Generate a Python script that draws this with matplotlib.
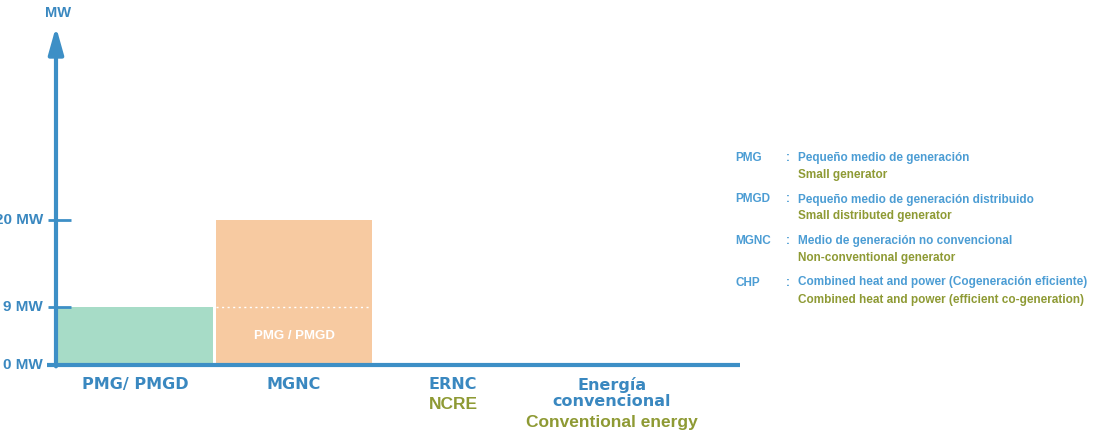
import numpy as np
import matplotlib.pyplot as plt

# categories along the horizontal axis
categories = ["PMG/ PMGD", "MGNC", "ERNC", "Energía\nconvencional"]
sub_labels = ["", "", "NCRE", "Conventional energy"]
bar_mw = [9, 20]          # only the first two categories have a bar
inner_label = "PMG / PMGD"
tick_mw = [0, 9, 20]
tick_labels = ["0 MW", "9 MW", "20 MW"]

legend_terms = ["PMG", "PMGD", "MGNC", "CHP"]
legend_es = ["Pequeño medio de generación",
             "Pequeño medio de generación distribuido",
             "Medio de generación no convencional",
             "Combined heat and power (Cogeneración eficiente)"]
legend_en = ["Small generator",
             "Small distributed generator",
             "Non-conventional generator",
             "Combined heat and power (efficient co-generation)"]

BLUE = "#3d8fc6"
TXT_BLUE = "#3a88c0"
LEG_BLUE = "#4c9dd4"
OLIVE = "#8e9a34"
GREEN = "#a7dcc7"
ORANGE = "#f7caa1"

NARROW = ["Liberation Sans"]
WIDE = ["DejaVu Sans"]

# the picture's y axis is not linear: 0 / 9 / 20 MW are not evenly spaced
knots_mw = [0, 9, 20, 60]
knots_h = [0, 58, 145, 461]


def fwd(v):
    return np.interp(v, knots_mw, knots_h)


def inv(h):
    return np.interp(h, knots_h, knots_mw)


W, H = 1098, 430
fig = plt.figure(figsize=(W / 100, H / 100), dpi=100)
ax = fig.add_axes([56 / W, 1 - 365 / H, 684 / W, 333 / H])
ax.set_yscale("function", functions=(fwd, inv))
ax.set_xlim(-0.497, 3.805)
ax.set_ylim(0, 43.8)

x = np.arange(len(categories))
ax.bar(x[:2], bar_mw, width=0.985, color=[GREEN, ORANGE], zorder=1)
# dotted line inside MGNC bar at the PMG limit
ax.hlines(bar_mw[0], x[1] - 0.49, x[1] + 0.49, colors="white", linestyles=(0, (1.5, 2.5)), lw=1, zorder=2)
ax.text(x[1], 4.5, inner_label, color="white", ha="center", va="center",
        fontsize=9.5, fontweight="bold", family=NARROW, zorder=3)

for s in ax.spines.values():
    s.set_visible(False)
ax.set_xticks([])
ax.set_yticks([])

# axes with arrow
ax.annotate("", xy=(0, 1.016), xytext=(0, -0.004), xycoords="axes fraction",
            arrowprops=dict(arrowstyle="-|>,head_length=1.6,head_width=0.45",
                            color=BLUE, lw=3, mutation_scale=10, shrinkA=0, shrinkB=0))
ax.plot([-9 / 684, 1], [0, 0], transform=ax.transAxes, color=BLUE, lw=3,
        solid_capstyle="butt", clip_on=False)

ytr = ax.get_yaxis_transform()
ax.hlines(tick_mw[1:], -8 / 684, 15 / 684, transform=ytr, colors=BLUE, lw=2, clip_on=False)
for v, lab in zip(tick_mw, tick_labels):
    ax.text(-13 / 684, v, lab, transform=ytr, ha="right", va="center", color=TXT_BLUE,
            fontsize=11, fontweight="bold", family=NARROW, clip_on=False)

fig.text(58 / W, 1 - 13 / H, "MW", ha="center", va="center", color=TXT_BLUE,
         fontsize=10.5, fontweight="bold", family=NARROW)

xtr = ax.get_xaxis_transform()
for i, (lab, sub) in enumerate(zip(categories, sub_labels)):
    ax.text(i, -12 / 333, lab, transform=xtr, ha="center", va="top", color=TXT_BLUE,
            fontsize=11.5, fontweight="bold", family=WIDE, linespacing=1.08, clip_on=False)
    if sub:
        nlines = lab.count("\n") + 1
        ax.text(i, -(12 + 18 * nlines + 2) / 333, sub, transform=xtr, ha="center", va="top",
                color=OLIVE, fontsize=12.5, fontweight="bold", family=NARROW, clip_on=False)

# glossary on the right
for k, (term, es, en) in enumerate(zip(legend_terms, legend_es, legend_en)):
    y0 = 158 + 41.5 * k
    fig.text(735 / W, 1 - y0 / H, term, ha="left", va="center", color=LEG_BLUE,
             fontsize=8.5, fontweight="bold", family=NARROW)
    fig.text(786 / W, 1 - y0 / H, ":", ha="left", va="center", color=LEG_BLUE,
             fontsize=8.5, fontweight="bold", family=NARROW)
    fig.text(798 / W, 1 - y0 / H, es, ha="left", va="center", color=LEG_BLUE,
             fontsize=8.5, fontweight="bold", family=NARROW)
    fig.text(798 / W, 1 - (y0 + 17) / H, en, ha="left", va="center", color=OLIVE,
             fontsize=8.5, fontweight="bold", family=NARROW)

fig.savefig("out.png", dpi=100)
